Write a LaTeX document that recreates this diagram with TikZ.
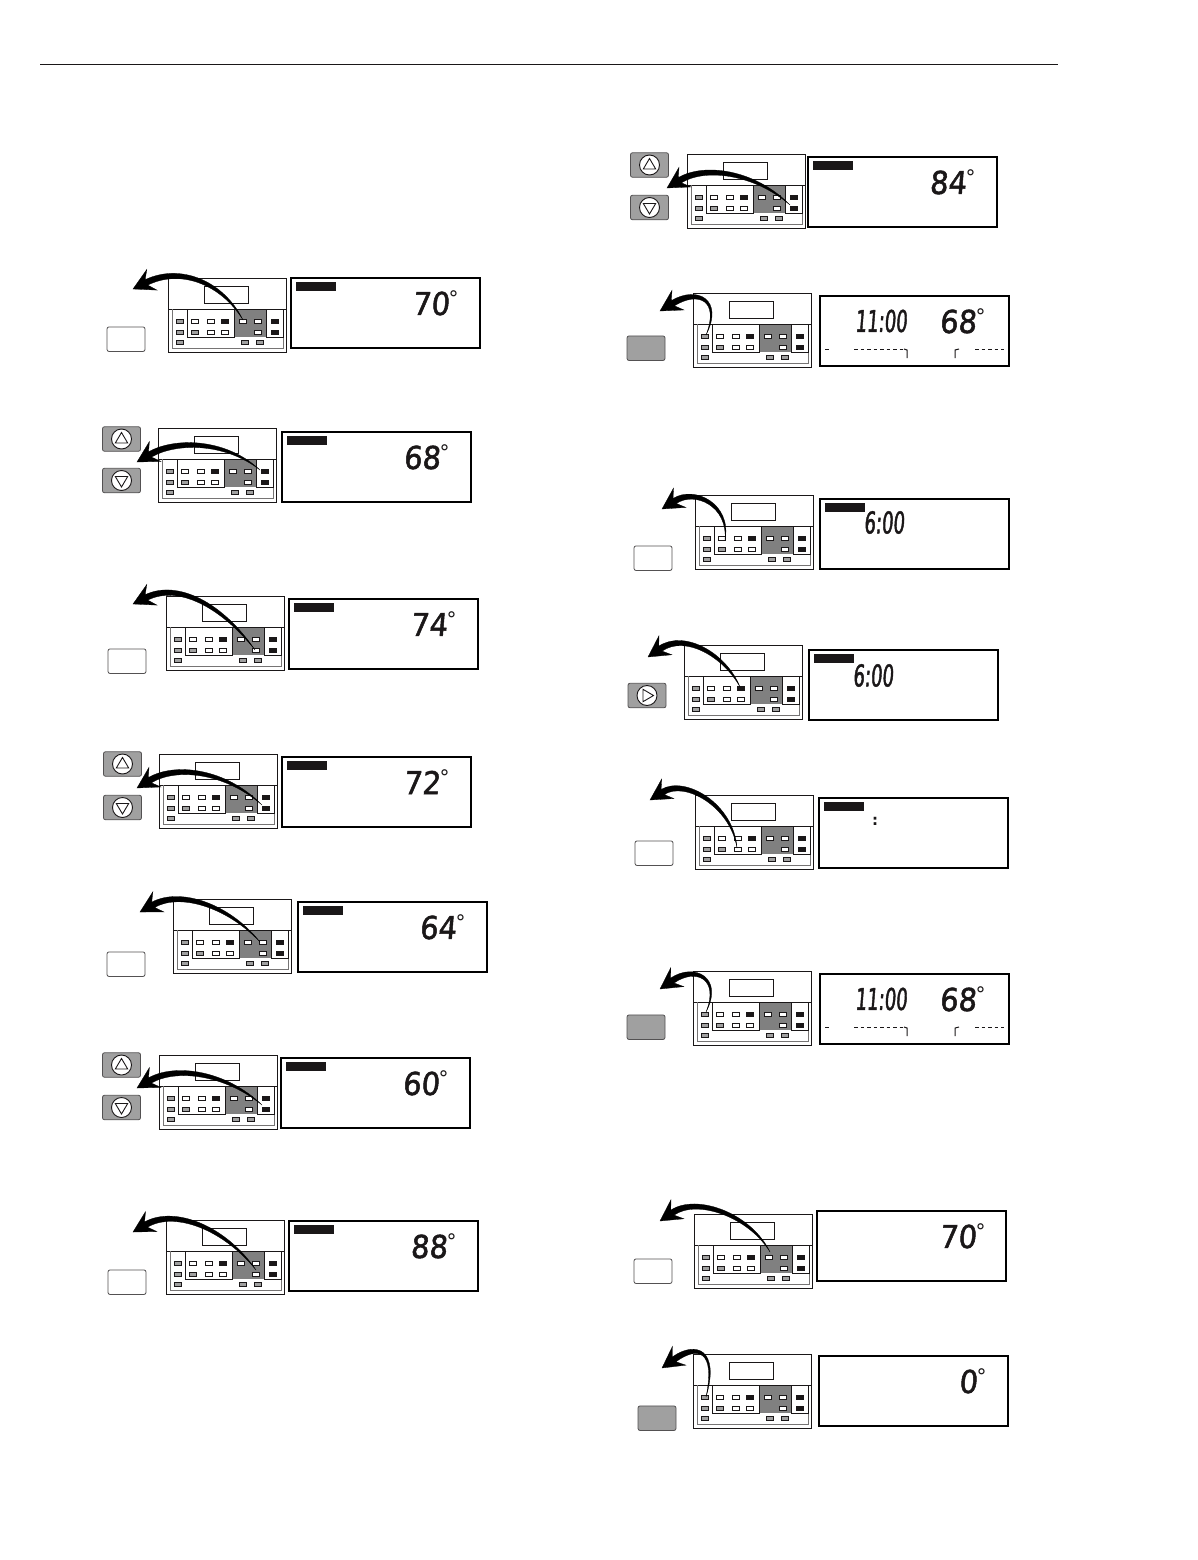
\documentclass[tikz,border=0pt]{standalone}
\usepackage{fontspec}
\usetikzlibrary{calc}
\newfontfamily\lcdtemp[FakeSlant=0.08,FakeStretch=0.92,FakeBold=1.6]{DejaVu Sans}
\newfontfamily\lcdclock[FakeSlant=0.08,FakeStretch=0.6,FakeBold=1.4]{DejaVu Sans}
\newfontfamily\lcdplain{DejaVu Sans}
\definecolor{btngray}{HTML}{A0A0A0}
\definecolor{zonegray}{HTML}{808080}
\definecolor{ink}{HTML}{1A1718}
\tikzset{
  pnl/.style={draw=ink,line width=.9pt,fill=white},
  pnlin/.style={draw=ink,line width=.6pt},
  smallbtn/.style={draw=ink,line width=.6pt,minimum width=6.5pt,minimum height=3.8pt,inner sep=0pt,outer sep=0pt},
  sbw/.style={smallbtn,fill=white},
  sbg/.style={smallbtn,fill=btngray},
  sbk/.style={smallbtn,fill=ink},
  lcdbox/.style={draw=black,line width=2pt,fill=white},
  keycap/.style={draw=ink!75,line width=.8pt,rounded corners=2pt,minimum width=38pt,minimum height=24.5pt,inner sep=0pt,outer sep=0pt},
  keywhite/.style={keycap,fill=white},
  keygray/.style={keycap,fill=btngray},
  keyring/.style={circle,draw=ink,line width=.9pt,fill=white,minimum size=20pt,inner sep=0pt},
  keytri/.style={draw=ink,line width=.9pt},
  swoosh/.style={fill=black,draw=black,line width=.3pt},
  tempfont/.style={font=\fontsize{31.5}{31.5}\lcdtemp\selectfont,text=ink,inner sep=0pt,anchor=east},
  clockfont/.style={font=\fontsize{30}{30}\lcdclock\selectfont,text=ink,inner sep=0pt},
  degfont/.style={font=\fontsize{20}{20}\lcdplain\selectfont,text=ink,inner sep=0pt,anchor=north},
  tl/.style={draw=ink,line width=1pt},
  tldash/.style={tl,dash pattern=on 3.5pt off 3pt},
}
\newcommand\panelunit[2]{%
\begin{scope}[shift={(#1,#2)}]
  \path[pnl] (0,0) rectangle (118,74);
  \path[pnlin,fill=white] (36,8) rectangle (80,25);
  \path[pnlin] (0,31) -- (118,31);
  \path[draw=ink!60,line width=.5pt] (4,31) -- (4,70) -- (115,70) -- (115,31);
  \path[fill=zonegray] (66,32) rectangle (98,59);
  \path[pnlin] (19,31.5) rectangle (66,59);
  \path[pnlin] (98,31.5) rectangle (115,59);
  \foreach \cx/\cy/\sty in {12/43/sbg,12/54/sbg,12/64/sbg,
     27/43/sbw,43/43/sbw,57/43/sbk,
     27/54/sbg,43/54/sbw,57/54/sbw,
     75/43/sbw,90/43/sbw,90/54/sbw,
     107/43/sbk,107/54/sbk,77/64/sbg,92/64/sbg}
     \node[\sty] at (\cx,\cy) {};
\end{scope}}
\newcommand\lcdframe[2]{\path[lcdbox] (#1,#2) rectangle ++(189,69.5);}
\newcommand\lcdbar[2]{\path[fill=ink] (#1+5,#2+4) rectangle (#1+45,#2+13);}
\newcommand\tempnode[4]{%
  \node[tempfont] (#1) at (#2+158.5,#3+25.5) {#4};
  \node[degfont] (#1deg) at (#2+162.5,#3+12) {°};}
\newcommand\timeline[3]{%
\begin{scope}[shift={(#2,#3)}]
  \node[clockfont] (#1clock) at (61,25) {11:00};
  \path[tl] (5,53) -- (8.5,53);
  \path[tldash] (34,53) -- (83,53);
  \path[tl] (84,53) -- (87,54) -- (87,62);
  \path[tl] (135,62) -- (135,54) -- (139,53);
  \path[tldash] (155,53) -- (184,53);
\end{scope}}
\newcommand\keyplain[4]{\node[#4] (#1) at (#2+19,#3+12.2) {};}
\newcommand\keyup[3]{%
  \node[keygray] (#1) at (#2+19.5,#3+12) {};
  \node[keyring] (#1ring) at (#1) {};
  \path[keytri] ($(#1)+(0,-6.5)$) -- ($(#1)+(6.2,4)$) -- ($(#1)+(-6.2,4)$) -- cycle;}
\newcommand\keydown[3]{%
  \node[keygray] (#1) at (#2+19.5,#3+12.5) {};
  \node[keyring] (#1ring) at (#1) {};
  \path[keytri] ($(#1)+(0,6.5)$) -- ($(#1)+(6.2,-4)$) -- ($(#1)+(-6.2,-4)$) -- cycle;}
\newcommand\keyplay[3]{%
  \node[keygray] (#1) at (#2+19,#3+12.5) {};
  \node[keyring] (#1ring) at (#1) {};
  \path[keytri] ($(#1)+(6.5,0)$) -- ($(#1)+(-4,-6.2)$) -- ($(#1)+(-4,6.2)$) -- cycle;}
\newcommand\swooshto[4]{%
  \coordinate (sS) at (#1);
  \coordinate (sA) at (#2);
  \coordinate (sB) at (#3);
  \coordinate (sT) at (#4);
  \coordinate (sN) at ($(sT)!15pt!(sB)$);
  \coordinate (sW) at ($(sT)!21pt!(sB)$);
  \coordinate (oAp) at ($(sS)!2.4pt!90:(sB)$);
  \coordinate (oAm) at ($(sS)!2.4pt!-90:(sB)$);
  \coordinate (oBp) at ($(sA)!3pt!90:(sT)$);
  \coordinate (oBm) at ($(sA)!3pt!-90:(sT)$);
  \path[swoosh] (sS) .. controls ($(sA)+(oAp)-(sS)$) and ($(sB)+(oBp)-(sA)$) .. ($(sN)!3pt!90:(sT)$)
    -- ($(sW)!11.5pt!90:(sT)$) -- (sT) -- ($(sW)!11.5pt!-90:(sT)$) -- ($(sN)!3pt!-90:(sT)$)
    .. controls ($(sB)+(oBm)-(sA)$) and ($(sA)+(oAm)-(sS)$) .. (sS) -- cycle;}
\begin{document}
\begin{tikzpicture}[x=1pt,y=-1pt]
\useasboundingbox[fill=white] (0,0) rectangle (1198,1560);
\path[draw=ink,line width=.9pt] (40,64) -- (1058,64);

\panelunit{168}{278}\lcdframe{291}{278}\lcdbar{291}{278}\tempnode{tA}{291}{278}{70}
\keyplain{kA}{107}{327}{keywhite}
\swooshto{243,320}{222,282}{180,266}{133,289}

\panelunit{158}{428}\lcdframe{282}{432}\lcdbar{282}{432}\tempnode{tB}{282}{432}{68}
\keyup{kBu}{102}{427}\keydown{kBd}{102}{468}
\swooshto{260,470}{225,440}{175,440}{137,462}

\panelunit{166}{596}\lcdframe{289}{599}\lcdbar{289}{599}\tempnode{tC}{289}{599}{74}
\keyplain{kC}{108}{649}{keywhite}
\swooshto{255,650}{222,605}{178,582}{133,604}

\panelunit{159}{754}\lcdframe{282}{757}\lcdbar{282}{757}\tempnode{tD}{282}{757}{72}
\keyup{kDu}{103}{752}\keydown{kDd}{103}{795}
\swooshto{262,805}{225,770}{175,765}{137,788}

\panelunit{173}{899}\lcdframe{298}{902}\lcdbar{298}{902}\tempnode{tE}{298}{902}{64}
\keyplain{kE}{107}{952}{keywhite}
\swooshto{260,942}{228,905}{180,890}{140,912}

\panelunit{159}{1055}\lcdframe{281}{1058}\lcdbar{281}{1058}\tempnode{tF}{281}{1058}{60}
\keyup{kFu}{102}{1053}\keydown{kFd}{102}{1095}
\swooshto{262,1105}{225,1072}{175,1066}{137,1088}

\panelunit{166}{1220}\lcdframe{289}{1221}\lcdbar{289}{1221}\tempnode{tG}{289}{1221}{88}
\keyplain{kG}{108}{1270}{keywhite}
\swooshto{256,1270}{225,1228}{175,1208}{133,1232}

\panelunit{687}{154}\lcdframe{808}{157}\lcdbar{808}{157}\tempnode{tH}{808}{157}{84}
\keyup{kHu}{630}{153}\keydown{kHd}{630}{195}
\swooshto{790,205}{755,172}{705,165}{667,188}

\panelunit{693}{293}\lcdframe{820}{296}\tempnode{tI}{818}{296}{68}\timeline{tI}{820}{296}
\keyplain{kI}{627}{336}{keygray}
\swooshto{706,335}{722,300}{698,288}{660,311}

\panelunit{695}{495}\lcdframe{820}{499}\lcdbar{820}{499}
\node[clockfont] (tJ) at (884,522.5) {6:00};
\keyplain{kJ}{634}{546}{keywhite}
\swooshto{725,540}{730,505}{695,488}{662,509}

\panelunit{684}{645}\lcdframe{809}{650}\lcdbar{809}{650}
\node[clockfont] (tK) at (873,675.5) {6:00};
\keyplay{kK}{628}{683}
\swooshto{740,687}{725,655}{685,632}{648,657}

\panelunit{695}{795}\lcdframe{819}{798}\lcdbar{819}{798}
\node[font=\fontsize{15}{15}\lcdplain\bfseries\selectfont,text=ink,inner sep=0pt] (tL) at (875,821) {:};
\keyplain{kL}{635}{841}{keywhite}
\swooshto{737,848}{732,805}{685,778}{650,800}

\panelunit{693}{971}\lcdframe{820}{974}\tempnode{tM}{818}{974}{68}\timeline{tM}{820}{974}
\keyplain{kM}{627}{1015}{keygray}
\swooshto{706,1012}{722,978}{695,965}{660,989}

\panelunit{694}{1214}\lcdframe{817}{1211}\tempnode{tN}{818}{1211}{70}
\keyplain{kN}{634}{1259}{keywhite}
\swooshto{770,1252}{750,1215}{697,1196}{660,1221}

\panelunit{693}{1354}\lcdframe{819}{1356}\tempnode{tO}{819}{1356}{0}
\keyplain{kO}{638}{1406}{keygray}
\swooshto{706,1397}{718,1350}{697,1343}{662,1368}
\end{tikzpicture}
\end{document}
